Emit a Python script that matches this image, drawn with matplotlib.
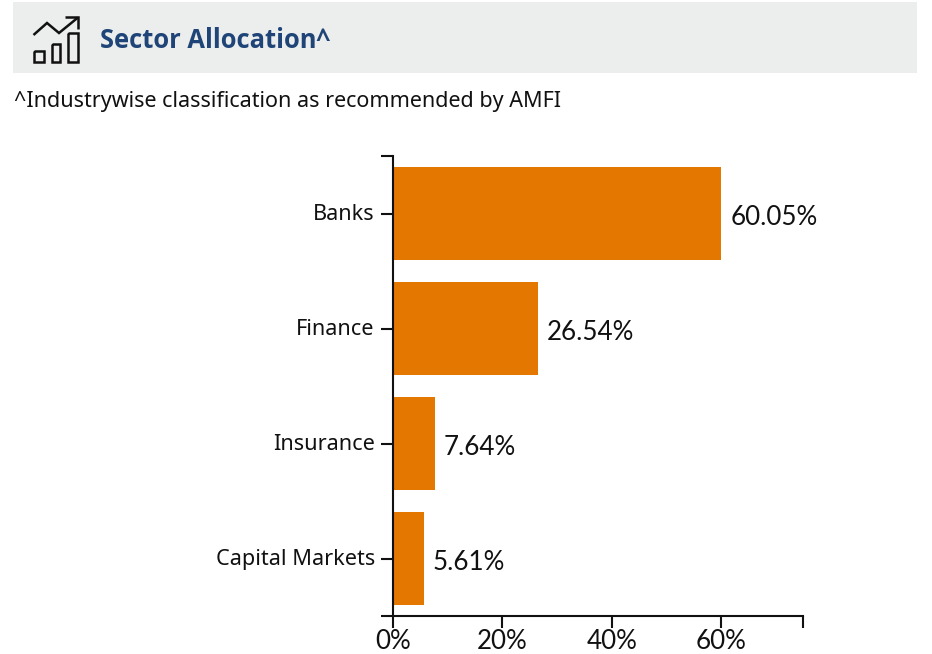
import matplotlib
matplotlib.use('Agg')
import matplotlib.pyplot as plt
from matplotlib.patches import Rectangle
from matplotlib.transforms import ScaledTranslation

sectors = ['Banks', 'Finance', 'Insurance', 'Capital Markets']
weights = [60.05, 26.54, 7.64, 5.61]
x_ticks = [0, 20, 40, 60]
x_labels = ['0%', '20%', '40%', '60%']

W, H = 932, 654
orange = '#E37700'
navy = '#1F4477'

fig = plt.figure(figsize=(W / 100, H / 100), dpi=100)

# overlay in pixel coords for the header
bg = fig.add_axes([0, 0, 1, 1])
bg.set_xlim(0, W)
bg.set_ylim(H, 0)
bg.axis('off')
bg.add_patch(Rectangle((13, 2), 904, 71, color='#ECEDED', lw=0))
bg.text(100, 40, 'Sector Allocation^', family='Open Sans', weight='bold', color=navy,
        fontsize=18.4, va='center', ha='left')
bg.text(14, 102, '^Industrywise classification as recommended by AMFI', family='Noto Sans',
        color='#111111', fontsize=15.5, va='center', ha='left')

# icon
ic = dict(color='#111111', lw=1.8, solid_joinstyle='miter', solid_capstyle='butt')
bg.plot([33.5, 47, 59, 78], [35, 23, 33, 17.5], **ic)
bg.plot([65, 78, 78], [17, 17, 29], **ic)
for x0, x1, y0 in [(34, 43.5, 51), (52, 60, 44), (68, 78, 33)]:
    bg.plot([x0, x1, x1, x0, x0], [y0, y0, 61.5, 61.5, y0], **ic)

ax = fig.add_axes([393 / W, 1 - 616 / H, (803 - 393) / W, 460 / H])
pos = list(range(len(sectors)))
ax.barh(pos, weights, height=0.81, color=orange, zorder=1)
ax.set_xlim(0, 75)
ax.set_ylim(len(sectors) - 0.5, -0.5)

for p, v in zip(pos, weights):
    ax.annotate(f'{v:.2f}%', (v, p), xytext=(6.5, -2.6), textcoords='offset points',
                family='Lato', fontsize=18.7, va='center', ha='left', color='#111111')

for s in ['top', 'right']:
    ax.spines[s].set_visible(False)
for s in ['left', 'bottom']:
    ax.spines[s].set_linewidth(1.5)
    ax.spines[s].set_color('#111111')
    ax.spines[s].set_zorder(3)

ax.set_yticks(pos)
ax.set_yticklabels(sectors, family='Noto Sans', fontsize=15.6, color='#111111')
ax.set_xticks(x_ticks)
ax.set_xticklabels(x_labels, family='Lato', fontsize=18.7, color='#111111')
# end of the x axis gets a tick with no label
ax.set_xticks([75], minor=True)
ax.tick_params(axis='both', which='both', length=8.6, width=1.5, color='#111111')
ax.tick_params(axis='y', pad=4.5)
ax.tick_params(axis='x', pad=0.8)
for t in ax.get_yticklabels():
    t.set_transform(t.get_transform() + ScaledTranslation(0, 1.1 / 72, fig.dpi_scale_trans))

# outer ends of the axis lines
bg.plot([381, 393], [156, 156], color='#111111', lw=1.5, solid_capstyle='butt')
bg.plot([381, 393], [616, 616], color='#111111', lw=1.5, solid_capstyle='butt')

fig.savefig('out.png', dpi=100)
